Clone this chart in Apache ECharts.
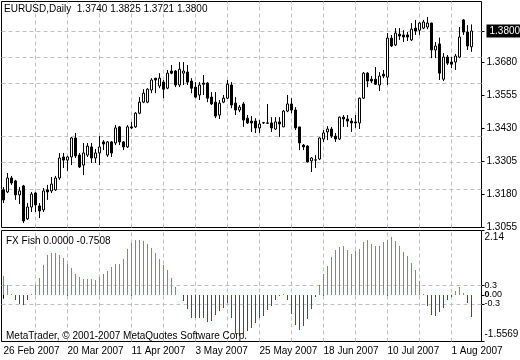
<!DOCTYPE html>
<html><head><meta charset="utf-8">
<script src="https://cdn.jsdelivr.net/npm/echarts@6/dist/echarts.min.js"></script>
<style>html,body{margin:0;padding:0;background:#fff}#c{width:520px;height:360px}</style>
</head><body><div id="c"></div>
<script>
const dates = [
 '26 Feb 2007','27 Feb 2007','28 Feb 2007',
 '1 Mar 2007','2 Mar 2007','5 Mar 2007','6 Mar 2007','7 Mar 2007','8 Mar 2007','9 Mar 2007','12 Mar 2007','13 Mar 2007','14 Mar 2007','15 Mar 2007','16 Mar 2007','19 Mar 2007','20 Mar 2007','21 Mar 2007','22 Mar 2007','23 Mar 2007','26 Mar 2007','27 Mar 2007','28 Mar 2007','29 Mar 2007','30 Mar 2007',
 '2 Apr 2007','3 Apr 2007','4 Apr 2007','5 Apr 2007','6 Apr 2007','9 Apr 2007','10 Apr 2007','11 Apr 2007','12 Apr 2007','13 Apr 2007','16 Apr 2007','17 Apr 2007','18 Apr 2007','19 Apr 2007','20 Apr 2007','23 Apr 2007','24 Apr 2007','25 Apr 2007','26 Apr 2007','27 Apr 2007','30 Apr 2007',
 '1 May 2007','2 May 2007','3 May 2007','4 May 2007','7 May 2007','8 May 2007','9 May 2007','10 May 2007','11 May 2007','14 May 2007','15 May 2007','16 May 2007','17 May 2007','18 May 2007','21 May 2007','22 May 2007','23 May 2007','24 May 2007','25 May 2007','28 May 2007','29 May 2007','30 May 2007','31 May 2007',
 '1 Jun 2007','4 Jun 2007','5 Jun 2007','6 Jun 2007','7 Jun 2007','8 Jun 2007','11 Jun 2007','12 Jun 2007','13 Jun 2007','14 Jun 2007','15 Jun 2007','18 Jun 2007','19 Jun 2007','20 Jun 2007','21 Jun 2007','22 Jun 2007','25 Jun 2007','26 Jun 2007','27 Jun 2007','28 Jun 2007','29 Jun 2007',
 '2 Jul 2007','3 Jul 2007','4 Jul 2007','5 Jul 2007','6 Jul 2007','9 Jul 2007','10 Jul 2007','11 Jul 2007','12 Jul 2007','13 Jul 2007','16 Jul 2007','17 Jul 2007','18 Jul 2007','19 Jul 2007','20 Jul 2007','23 Jul 2007','24 Jul 2007','25 Jul 2007','26 Jul 2007','27 Jul 2007','30 Jul 2007','31 Jul 2007',
 '1 Aug 2007','2 Aug 2007','3 Aug 2007','6 Aug 2007','7 Aug 2007','8 Aug 2007'
];
const opens = [
 1.3197,1.3189,1.3242,1.3231,1.3178,1.3212,1.3087,1.3132,1.3185,1.3136,
 1.3121,1.3197,1.3193,1.3197,1.3242,1.3322,1.3310,1.3322,1.3394,1.3329,
 1.3291,1.3329,1.3360,1.3318,1.3337,1.3379,1.3329,1.3379,1.3375,1.3436,
 1.3379,1.3360,1.3436,1.3436,1.3488,1.3530,1.3530,1.3576,1.3621,1.3591,
 1.3606,1.3583,1.3648,1.3648,1.3595,1.3640,1.3644,1.3610,1.3587,1.3557,
 1.3602,1.3602,1.3549,1.3530,1.3481,1.3530,1.3545,1.3595,1.3526,1.3500,
 1.3523,1.3469,1.3458,1.3458,1.3432,1.3451,1.3451,1.3451,1.3428,1.3455,
 1.3436,1.3496,1.3523,1.3500,1.3436,1.3367,1.3363,1.3307,1.3310,1.3314,
 1.3390,1.3417,1.3428,1.3401,1.3390,1.3473,1.3466,1.3458,1.3455,1.3451,
 1.3545,1.3640,1.3617,1.3617,1.3595,1.3636,1.3625,1.3773,1.3747,1.3788,
 1.3785,1.3785,1.3766,1.3811,1.3803,1.3811,1.3815,1.3830,1.3728,1.3751,
 1.3617,1.3701,1.3682,1.3682,1.3701,1.3842,1.3796,1.3740
];
const closes = [
 1.3159,1.3242,1.3223,1.3178,1.3193,1.3079,1.3132,1.3181,1.3140,1.3117,
 1.3193,1.3189,1.3219,1.3242,1.3318,1.3310,1.3322,1.3394,1.3326,1.3284,
 1.3337,1.3363,1.3318,1.3337,1.3360,1.3371,1.3379,1.3337,1.3432,1.3379,
 1.3360,1.3436,1.3432,1.3488,1.3530,1.3564,1.3579,1.3614,1.3614,1.3621,
 1.3579,1.3640,1.3640,1.3595,1.3655,1.3648,1.3606,1.3583,1.3549,1.3595,
 1.3598,1.3545,1.3523,1.3477,1.3526,1.3545,1.3598,1.3519,1.3500,1.3511,
 1.3462,1.3451,1.3451,1.3432,1.3447,1.3452,1.3450,1.3432,1.3455,1.3447,
 1.3496,1.3523,1.3500,1.3432,1.3375,1.3360,1.3303,1.3318,1.3311,1.3394,
 1.3413,1.3428,1.3401,1.3390,1.3473,1.3466,1.3458,1.3451,1.3451,1.3545,
 1.3640,1.3610,1.3610,1.3598,1.3629,1.3629,1.3773,1.3743,1.3792,1.3781,
 1.3777,1.3777,1.3807,1.3800,1.3830,1.3834,1.3830,1.3728,1.3743,1.3640,
 1.3701,1.3678,1.3674,1.3705,1.3777,1.3796,1.3743,1.3800
];
const lows = [
 1.3147,1.3185,1.3216,1.3159,1.3143,1.3071,1.3083,1.3113,1.3113,1.3090,
 1.3113,1.3159,1.3185,1.3193,1.3235,1.3280,1.3269,1.3291,1.3318,1.3280,
 1.3253,1.3322,1.3299,1.3299,1.3291,1.3348,1.3322,1.3322,1.3367,1.3367,
 1.3348,1.3356,1.3428,1.3432,1.3484,1.3526,1.3526,1.3564,1.3564,1.3583,
 1.3545,1.3579,1.3636,1.3587,1.3587,1.3595,1.3595,1.3564,1.3545,1.3538,
 1.3557,1.3530,1.3519,1.3469,1.3466,1.3526,1.3542,1.3507,1.3481,1.3492,
 1.3436,1.3447,1.3417,1.3413,1.3413,1.3447,1.3447,1.3417,1.3424,1.3398,
 1.3436,1.3492,1.3488,1.3424,1.3348,1.3348,1.3301,1.3265,1.3280,1.3310,
 1.3379,1.3386,1.3394,1.3379,1.3386,1.3436,1.3436,1.3417,1.3432,1.3428,
 1.3542,1.3587,1.3602,1.3595,1.3572,1.3621,1.3595,1.3739,1.3743,1.3766,
 1.3758,1.3762,1.3762,1.3785,1.3785,1.3807,1.3807,1.3697,1.3697,1.3614,
 1.3610,1.3671,1.3659,1.3652,1.3697,1.3785,1.3728,1.3721
];
const highs = [
 1.3208,1.3261,1.3250,1.3235,1.3208,1.3216,1.3147,1.3189,1.3189,1.3147,
 1.3204,1.3216,1.3246,1.3250,1.3337,1.3337,1.3326,1.3398,1.3413,1.3337,
 1.3375,1.3375,1.3375,1.3352,1.3401,1.3386,1.3382,1.3382,1.3443,1.3439,
 1.3382,1.3443,1.3455,1.3492,1.3549,1.3579,1.3583,1.3621,1.3621,1.3640,
 1.3614,1.3652,1.3671,1.3652,1.3682,1.3682,1.3671,1.3621,1.3606,1.3606,
 1.3633,1.3606,1.3568,1.3568,1.3538,1.3557,1.3614,1.3606,1.3549,1.3519,
 1.3530,1.3481,1.3477,1.3469,1.3462,1.3455,1.3523,1.3473,1.3473,1.3473,
 1.3500,1.3557,1.3545,1.3511,1.3436,1.3371,1.3367,1.3322,1.3329,1.3396,
 1.3424,1.3439,1.3436,1.3413,1.3475,1.3481,1.3481,1.3469,1.3481,1.3547,
 1.3644,1.3644,1.3629,1.3663,1.3644,1.3652,1.3792,1.3785,1.3811,1.3811,
 1.3803,1.3796,1.3830,1.3842,1.3834,1.3842,1.3853,1.3832,1.3758,1.3775,
 1.3716,1.3709,1.3701,1.3713,1.3815,1.3845,1.3822,1.3825
];
const fish = [
 0.62,0.31,0.04,-0.16,-0.30,-0.35,-0.19,0.04,0.31,0.57,
 0.99,1.31,1.40,1.40,1.31,1.23,1.03,0.90,0.70,0.59,
 0.54,0.54,0.51,0.48,0.59,0.70,0.79,0.92,1.01,1.01,
 1.18,1.51,1.73,1.81,1.82,1.79,1.70,1.57,1.40,1.18,
 0.99,0.81,0.57,0.27,0.00,-0.21,-0.49,-0.77,-0.77,-0.77,
 -0.77,-0.90,-0.87,-0.68,-0.55,-0.43,-0.28,-0.77,-1.32,-1.38,
 -1.32,-1.21,-1.10,-0.93,-0.78,-0.71,-0.52,-0.38,-0.16,-0.05,
 0.03,-0.16,-0.63,-1.01,-1.19,-1.04,-0.82,-0.49,-0.08,0.31,
 0.68,0.96,1.26,1.48,1.59,1.62,1.48,1.37,1.45,1.54,
 1.76,1.81,1.70,1.62,1.62,1.76,1.81,1.92,1.79,1.62,
 1.43,1.29,1.07,0.84,0.45,0.04,-0.38,-0.68,-0.71,-0.57,
 -0.43,-0.19,-0.08,0.12,0.26,0.07,-0.29,-0.7508
];
const priceLabels = [1.3055, 1.3180, 1.3305, 1.3430, 1.3555, 1.3680, 1.3800];
const lastPrice = 1.3800;
const priceGridLevels = [1.3180, 1.3305, 1.3430, 1.3555, 1.3680, 1.3805];
const fishLabels = [2.14, 0.3, 0, -0.3, -1.5569];
const fishGridLevels = [0.3, -0.3];
const priceMin = 1.30542, priceMax = 1.39119;
const fishMin = -1.5569, fishMax = 2.14;
const gridStep = 8, labelStep = 16, emptySlots = 2;
const upColor = '#00e000', downColor = '#f00000';

const n = dates.length;
const cats = dates.concat(Array.from({length: emptySlots}, (_, k) => ' '.repeat(k + 1)));
const vLines = [];
for (let i = gridStep; i < cats.length; i += gridStep) vLines.push({xAxis: i});

const FONT = "'Liberation Sans', Arial, sans-serif";
const NARROW = "'Liberation Sans Narrow', 'Liberation Sans', Arial, sans-serif";
function gridLine() { return {color: '#c0c0c0', type: [4, 3], width: 1}; }

function renderFish(params, api) {
  const v = api.value(1);
  const base = api.coord([api.value(0), 0]);
  const tip = api.coord([api.value(0), v]);
  const x = Math.floor(base[0]);
  const y0 = Math.round(Math.min(base[1], tip[1]));
  const y1 = Math.round(Math.max(base[1], tip[1]));
  return {type: 'rect', silent: true,
          shape: {x: x, y: y0, width: 1, height: Math.max(1, y1 - y0)},
          style: {fill: v > 0 ? upColor : downColor}};
}
const fishData = [];
fish.forEach((v, i) => { if (v !== 0) fishData.push([i, v]); });

const textStyle = {fontSize: 10, fill: '#000', fontFamily: FONT};
const chart = echarts.init(document.getElementById('c'), null, {renderer: 'canvas'});
chart.setOption({
  animation: false,
  backgroundColor: '#fff',
  graphic: [
    {type: 'text', left: 4, top: 4, silent: true, z: 50,
     style: Object.assign({text: 'EURUSD,Daily  ' + [opens[n-1], highs[n-1], lows[n-1], closes[n-1]].map(v => v.toFixed(4)).join(' ')}, textStyle)},
    {type: 'text', left: 6, top: 236, silent: true, z: 50,
     style: Object.assign({text: 'FX Fish 0.0000 ' + fish[n-1].toFixed(4)}, textStyle)},
    {type: 'text', left: 6, top: 331, silent: true, z: 50,
     style: Object.assign({text: 'MetaTrader, © 2001-2007 MetaQuotes Software Corp.'}, textStyle)}
  ],
  grid: [
    {left: 1.5, top: 1.5, width: 480, height: 226, show: true, borderColor: '#000', borderWidth: 1, backgroundColor: 'transparent', containLabel: false, outerBoundsMode: 'none'},
    {left: 1.5, top: 230.5, width: 480, height: 111, show: true, borderColor: '#000', borderWidth: 1, backgroundColor: 'transparent', containLabel: false, outerBoundsMode: 'none'}
  ],
  xAxis: [
    {type: 'category', gridIndex: 0, data: cats, boundaryGap: true, show: false},
    {type: 'category', gridIndex: 1, data: cats, boundaryGap: true,
     axisLine: {show: false},
     axisTick: {show: true, alignWithLabel: true, length: 4, interval: (i) => i % labelStep === 0 && i < n, lineStyle: {color: '#000'}},
     axisLabel: {interval: (i) => i % labelStep === 0 && i < n, align: 'left', margin: 5, color: '#000', fontSize: 10, fontFamily: FONT, hideOverlap: false},
     splitLine: {show: false}}
  ],
  yAxis: [
    {type: 'value', gridIndex: 0, position: 'right', min: priceMin, max: priceMax, scale: true,
     axisLine: {show: false}, splitLine: {show: false},
     axisTick: {show: true, length: 3, customValues: priceLabels, lineStyle: {color: '#000'}},
     axisLabel: {customValues: priceLabels, margin: 5, color: '#000', fontSize: 10, fontFamily: NARROW,
       formatter: (v) => Math.abs(v - lastPrice) < 1e-7 ? '{hl|' + v.toFixed(4) + '}' : v.toFixed(4),
       rich: {hl: {backgroundColor: '#000', color: '#fff', fontSize: 10, fontFamily: NARROW, padding: [2, 3, 1, 3]}}}},
    {type: 'value', gridIndex: 1, position: 'right', min: fishMin, max: fishMax,
     axisLine: {show: false}, splitLine: {show: false},
     axisTick: {show: true, length: 3, customValues: fishLabels, lineStyle: {color: '#000'}},
     axisLabel: {customValues: fishLabels, margin: 3, color: '#000', fontSize: 9, fontFamily: NARROW,
       formatter: (v) => {
         if (Math.abs(v - fishMax) < 1e-7) return '{top|' + v.toFixed(2) + '}';
         if (Math.abs(v - fishMin) < 1e-7) return '{bot|' + v.toFixed(4) + '}';
         if (Math.abs(v) < 1e-7) return '{b|0}.00';
         return v.toFixed(1);
       },
       rich: {
         top: {padding: [14, 0, 0, 0], fontSize: 10, fontFamily: NARROW},
         bot: {padding: [0, 0, 14, 0], fontSize: 10, fontFamily: NARROW},
         b: {fontWeight: 'bold', fontSize: 9, fontFamily: NARROW}
       }}}
  ],
  series: [
    {type: 'candlestick', xAxisIndex: 0, yAxisIndex: 0, z: 3, barWidth: 3, silent: true,
     data: dates.map((d, i) => [opens[i], closes[i], lows[i], highs[i]]),
     itemStyle: {color: '#fff', color0: '#000', borderColor: '#000', borderColor0: '#000', borderWidth: 1},
     markLine: {silent: true, symbol: 'none', z: 1, label: {show: false}, lineStyle: gridLine(),
       data: priceGridLevels.map(v => ({yAxis: v})).concat(vLines)}},
    {type: 'line', xAxisIndex: 1, yAxisIndex: 1, data: [], silent: true, symbol: 'none',
     markLine: {silent: true, symbol: 'none', z: 1, label: {show: false}, lineStyle: gridLine(),
       data: fishGridLevels.map(v => ({yAxis: v})).concat(vLines.map(o => ({xAxis: o.xAxis})))}},
    {type: 'custom', name: 'FX Fish', xAxisIndex: 1, yAxisIndex: 1, z: 3, silent: true,
     emphasis: {disabled: true},
     renderItem: renderFish, encode: {x: 0, y: 1}, data: fishData}
  ]
});
</script></body></html>
